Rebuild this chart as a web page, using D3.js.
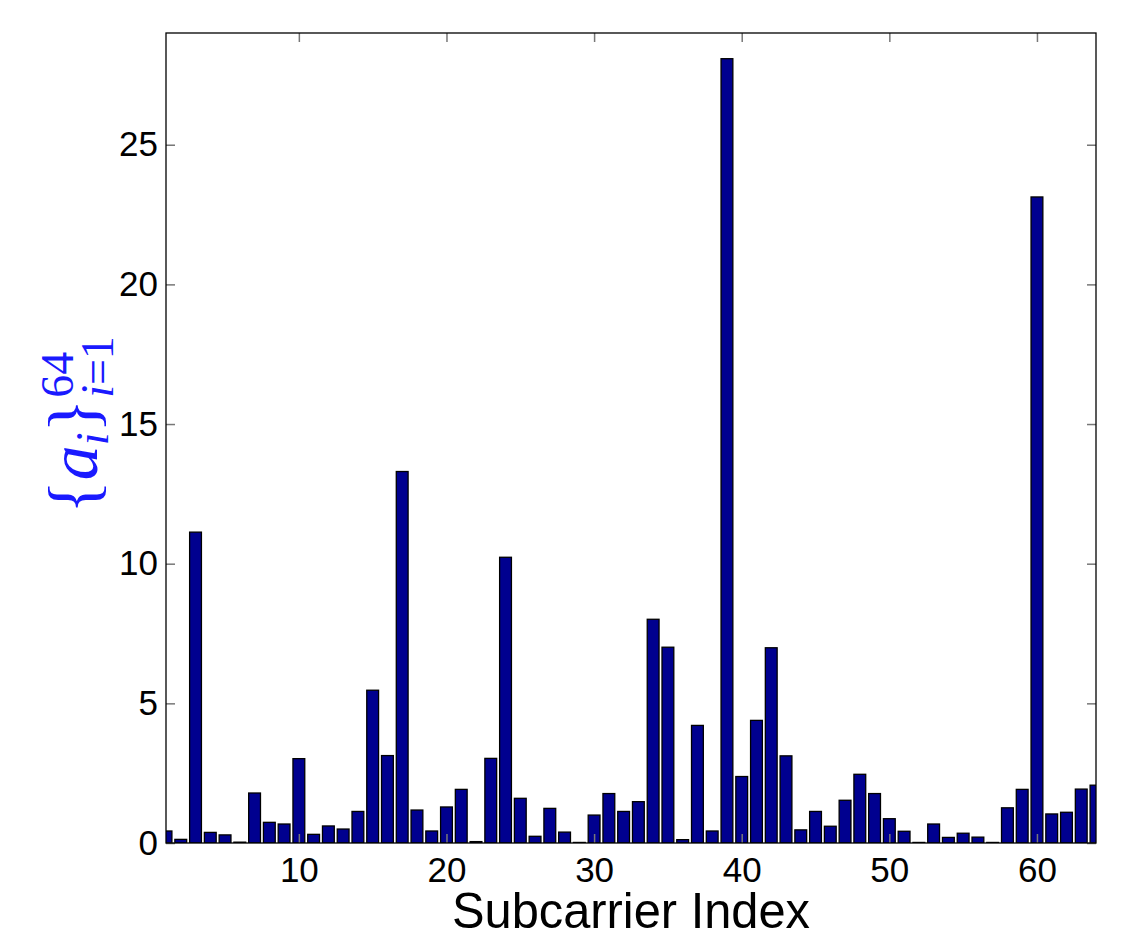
<!DOCTYPE html>
<html>
<head>
<meta charset="utf-8">
<script src="https://cdn.jsdelivr.net/npm/d3@7"></script>
<style>
  body { margin: 0; background: #fff; }
  svg { display: block; }
</style>
</head>
<body>
<div id="chart-area"></div>
<script>
// Datos
var values = [0.43, 0.13, 11.13, 0.38, 0.29, 0.03, 1.79, 0.74, 0.68, 3.02,
              0.31, 0.61, 0.50, 1.13, 5.47, 3.13, 13.3, 1.18, 0.43, 1.29,
              1.92, 0.05, 3.03, 10.23, 1.60, 0.24, 1.24, 0.39, 0.02, 1.00,
              1.77, 1.13, 1.48, 8.01, 7.01, 0.12, 4.21, 0.43, 28.08, 2.38,
              4.39, 6.99, 3.12, 0.47, 1.13, 0.60, 1.53, 2.46, 1.77, 0.87,
              0.42, 0.02, 0.68, 0.20, 0.35, 0.21, 0.02, 1.26, 1.92, 23.13,
              1.04, 1.10, 1.93, 2.07];
var xTicks = [10, 20, 30, 40, 50, 60];
var yTicks = [0, 5, 10, 15, 20, 25];

var W = 1140, H = 946;
var margin = {top: 33, right: 44, bottom: 103, left: 166};
var width = W - margin.left - margin.right;
var height = H - margin.top - margin.bottom;

var svg = d3.select("#chart-area")
    .append("svg")
    .attr("width", W)
    .attr("height", H);

var g = svg.append("g")
    .attr("transform", "translate(" + margin.left + "," + margin.top + ")");

// Escalas
var x = d3.scaleLinear().domain([1, 64]).range([0, width]);
var y = d3.scaleLinear().domain([0, 29]).range([height, 0]);
var barW = x(1.8) - x(1);

g.append("clipPath").attr("id", "clip")
    .append("rect").attr("width", width).attr("height", height);

// Barras
g.append("g").attr("clip-path", "url(#clip)")
    .selectAll("rect")
    .data(values)
    .enter().append("rect")
    .attr("x", (d, i) => x(i + 1) - barW / 2)
    .attr("y", (d) => y(d))
    .attr("width", barW)
    .attr("height", (d) => height - y(d))
    .attr("fill", "#00008f")
    .attr("stroke", "#000")
    .attr("stroke-width", 1.3);

// Ejes (ticks hacia dentro, en los cuatro lados)
var tickLen = 9;
var font = "'Liberation Sans', Arial, sans-serif";

var bottomAxis = d3.axisBottom(x).tickValues(xTicks).tickSize(-tickLen).tickPadding(tickLen + 5);
g.append("g").attr("class", "bottom axis")
    .attr("transform", "translate(0," + height + ")")
    .call(bottomAxis);

var topAxis = d3.axisTop(x).tickValues(xTicks).tickSize(-tickLen).tickFormat("");
g.append("g").attr("class", "top axis").call(topAxis);

var leftAxis = d3.axisLeft(y).tickValues(yTicks).tickSize(-tickLen).tickPadding(8);
g.append("g").attr("class", "left axis").call(leftAxis);

var rightAxis = d3.axisRight(y).tickValues(yTicks).tickSize(-tickLen).tickFormat("");
g.append("g").attr("class", "right axis")
    .attr("transform", "translate(" + width + ",0)")
    .call(rightAxis);

g.selectAll(".axis .domain").remove();
g.selectAll(".axis .tick line").attr("stroke", "#777").attr("stroke-width", 1.5);
g.selectAll(".axis text")
    .attr("font-family", font)
    .attr("font-size", "35px")
    .attr("fill", "#000");
g.selectAll(".bottom.axis text").attr("dy", "0.71em");

// Caja
g.append("rect")
    .attr("width", width).attr("height", height)
    .attr("fill", "none").attr("stroke", "#000").attr("stroke-width", 1.3);

// Etiqueta eje X
svg.append("text")
    .attr("x", margin.left + width / 2)
    .attr("y", 928)
    .attr("text-anchor", "middle")
    .attr("font-family", font)
    .attr("font-size", "50px")
    .attr("textLength", 358)
    .attr("lengthAdjust", "spacingAndGlyphs")
    .attr("fill", "#000")
    .text("Subcarrier Index");

// Etiqueta eje Y: {a_i}_{i=1}^{64}
var serif = "'Liberation Serif', 'DejaVu Serif', serif";
var yl = svg.append("g").attr("fill", "#1a1aff").attr("font-family", serif);
var main = yl.append("text").attr("x", 0).attr("y", 0).attr("font-size", "70px");
main.append("tspan").text("{");
main.append("tspan").attr("font-style", "italic").text("a");
main.append("tspan").attr("font-style", "italic").attr("font-size", "46px").attr("dy", 11).text("i");
main.append("tspan").attr("dy", -11).text("}");
var L = main.node().getComputedTextLength();
var sup = yl.append("text").attr("x", L + 1).attr("y", -24).attr("font-size", "46px").text("64");
var sub = yl.append("text").attr("x", L + 1).attr("y", 16).attr("font-size", "46px");
sub.append("tspan").attr("font-style", "italic").text("i");
sub.append("tspan").text("=1");
var total = L + 1 + Math.max(sup.node().getComputedTextLength(), sub.node().getComputedTextLength());
yl.attr("transform", "translate(97," + (425 + total / 2) + ") rotate(-90)");
</script>
</body>
</html>
